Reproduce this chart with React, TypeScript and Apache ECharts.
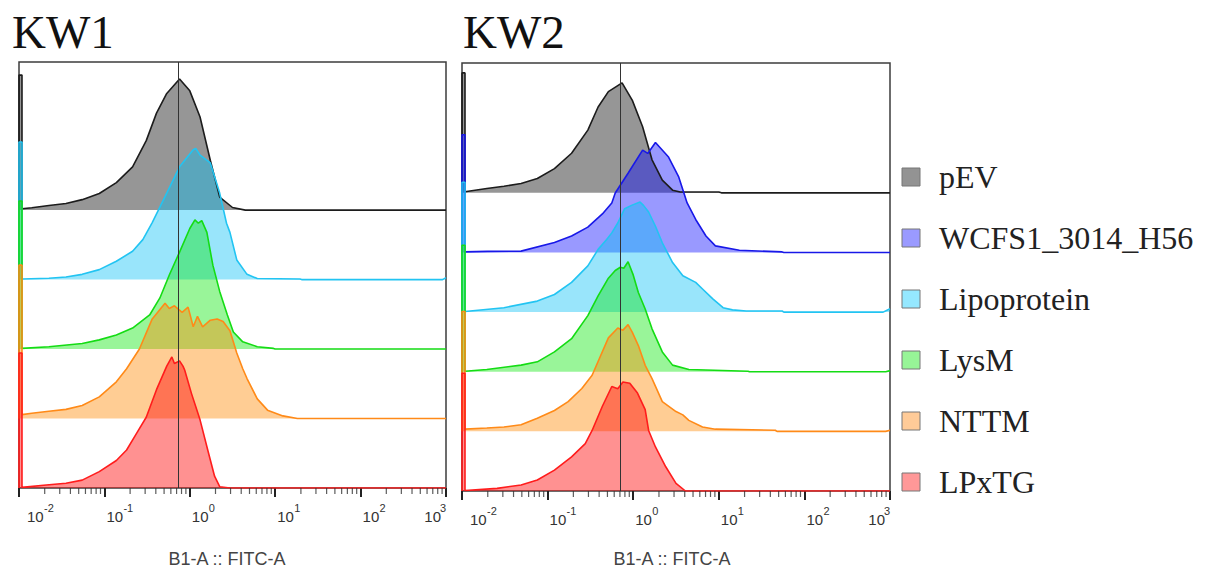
import React, { useEffect, useRef } from "react";
import * as echarts from "echarts";

// ---------- labels ----------
const PANEL_TITLES = ["KW1", "KW2"];
const X_AXIS_TITLE = "B1-A :: FITC-A";
const LEGEND_NAMES = ["pEV", "WCFS1_3014_H56", "Lipoprotein", "LysM", "NTTM", "LPxTG"];
const TICK_BASE = "10";

// ---------- colours ----------
const LINE_COLORS: Record<string, string> = {
  pEV: "#1c1c1c",
  WCFS1_3014_H56: "#1818e8",
  Lipoprotein: "#22c4f2",
  LysM: "#14dc14",
  NTTM: "#ff8a18",
  LPxTG: "#ff1c1c",
};
const FILL_COLORS: Record<string, string> = {
  pEV: "rgba(0,0,0,0.41)",
  WCFS1_3014_H56: "rgba(0,0,255,0.40)",
  Lipoprotein: "rgba(0,190,245,0.40)",
  LysM: "rgba(0,230,0,0.40)",
  NTTM: "rgba(255,135,0,0.42)",
  LPxTG: "rgba(255,0,0,0.43)",
};
const LEGEND_FILL: Record<string, string> = {
  pEV: "#939393",
  WCFS1_3014_H56: "#9a9aff",
  Lipoprotein: "#95e8ff",
  LysM: "#97f597",
  NTTM: "#ffcb98",
  LPxTG: "#ff9898",
};

// ---------- KW1 histograms (x in log10 FITC units, y in % of mode) ----------
const KW1_pEV_logx = [-1.96, -1.85, -1.65, -1.45, -1.26, -1.06, -0.86, -0.67, -0.51, -0.39, -0.27, -0.12, 0.0, 0.12, 0.24, 0.35, 0.5, 0.65];
const KW1_pEV_pct = [1, 1.8, 3.5, 5, 8, 12.7, 21, 33, 53, 74, 89, 100, 91, 71, 38, 10, 2, 0];
const KW1_pEV_spike = 103;

const KW1_Lipo_logx = [-1.96, -1.65, -1.45, -1.26, -1.06, -0.86, -0.67, -0.55, -0.44, -0.27, -0.12, 0.04, 0.07, 0.12, 0.24, 0.35, 0.43, 0.47, 0.55, 0.67, 0.79, 1.29, 1.31, 2.96, 3.0];
const KW1_Lipo_pct = [0.5, 1, 2, 4, 7.6, 14, 21.6, 30.5, 43.5, 66, 86, 99, 100, 95, 89, 66, 43, 36, 15, 4, 0.8, 0.5, 0, 0, 1.5];
const KW1_Lipo_spike = 105;

const KW1_LysM_logx = [-1.96, -1.65, -1.26, -1.06, -0.86, -0.67, -0.47, -0.35, -0.24, -0.12, 0.0, 0.06, 0.1, 0.14, 0.2, 0.27, 0.35, 0.44, 0.51, 0.62, 0.79, 0.98, 1.0];
const KW1_LysM_pct = [0.5, 1.8, 4.3, 7, 10.7, 16, 26, 39, 56.5, 74, 92, 98.5, 96, 98, 89, 64, 44, 26, 13, 5.5, 1.8, 0.5, 0];
const KW1_LysM_spike = 113;

const KW1_NTTM_logx = [-1.96, -1.85, -1.65, -1.45, -1.26, -1.06, -0.86, -0.74, -0.59, -0.44, -0.29, -0.24, -0.18, -0.09, -0.02, 0.04, 0.09, 0.15, 0.24, 0.32, 0.39, 0.47, 0.55, 0.62, 0.67, 0.79, 0.91, 1.09, 1.26];
const KW1_NTTM_pct = [3, 4, 5.5, 7, 10, 16.5, 28, 38, 53, 76, 88, 84, 86, 81, 85, 70, 78, 70, 75, 76, 74, 67, 50, 38, 30.5, 15, 6.4, 2, 0];
const KW1_NTTM_spike = 117;

const KW1_LPxTG_logx = [-1.96, -1.68, -1.45, -1.26, -1.06, -0.86, -0.74, -0.62, -0.51, -0.39, -0.27, -0.21, -0.18, -0.12, -0.08, -0.06, 0.02, 0.12, 0.21, 0.29, 0.35, 0.47];
const KW1_LPxTG_pct = [0.5, 2.3, 3.6, 6, 12.5, 21, 29, 42, 54, 75, 93, 100, 95, 97, 93, 90, 72, 52, 29, 9, 1, 0];
const KW1_LPxTG_spike = 103;

// ---------- KW2 histograms ----------
const KW2_pEV_logx = [-1.96, -1.71, -1.51, -1.31, -1.12, -0.92, -0.72, -0.53, -0.41, -0.29, -0.13, -0.01, 0.11, 0.22, 0.34, 0.46, 0.55, 1.0, 1.03];
const KW2_pEV_pct = [1, 3.9, 6, 8.5, 13, 22, 36, 57, 78, 92, 100, 84, 60, 30, 11.5, 2.4, 0.8, 0.8, 0];
const KW2_pEV_spike = 109;

const KW2_WCFS_logx = [-1.96, -1.7, -1.31, -0.92, -0.72, -0.53, -0.36, -0.25, -0.21, -0.06, 0.11, 0.17, 0.26, 0.41, 0.53, 0.63, 0.73, 0.85, 0.96, 1.24, 1.74, 1.76];
const KW2_WCFS_pct = [0.5, 1, 1.2, 9, 15, 23, 35, 45, 54, 72, 93, 90, 100, 87, 69, 45, 30, 15, 6, 2, 0.5, 0];
const KW2_WCFS_spike = 107;

const KW2_Lipo_logx = [-1.96, -1.51, -1.12, -0.92, -0.72, -0.53, -0.41, -0.31, -0.25, -0.18, -0.1, -0.02, 0.08, 0.12, 0.18, 0.26, 0.34, 0.46, 0.58, 0.73, 0.81, 0.93, 1.05, 1.16, 1.32, 1.74, 1.76, 2.92, 3.0];
const KW2_Lipo_pct = [0.5, 4, 10, 16, 27, 42, 57, 66, 72, 81, 94, 97, 100, 97, 91, 78, 63, 45, 33, 27, 21, 12, 4, 2, 1, 1, 0, 0, 3];
const KW2_Lipo_spike = 118;

const KW2_LysM_logx = [-1.96, -1.71, -1.31, -1.12, -0.92, -0.72, -0.53, -0.41, -0.29, -0.21, -0.15, -0.11, -0.06, 0.0, 0.06, 0.14, 0.22, 0.34, 0.46, 0.65, 1.34, 1.36, 2.95, 3.0];
const KW2_LysM_pct = [0.5, 2, 6, 9, 18, 30, 51, 69, 85, 92, 95, 94, 100, 88, 72, 57, 39, 18, 6, 2, 0.5, 0, 0, 1];
const KW2_LysM_spike = 115;

const KW2_NTTM_logx = [-1.96, -1.71, -1.51, -1.31, -1.12, -0.92, -0.76, -0.6, -0.48, -0.29, -0.18, -0.12, -0.06, -0.01, 0.06, 0.14, 0.22, 0.34, 0.5, 0.58, 0.65, 0.81, 0.96, 1.66, 1.68, 2.95, 3.0];
const KW2_NTTM_pct = [2, 3, 4, 6, 12, 19, 27, 39, 51, 85, 94, 92, 97, 90, 78, 60, 48, 27, 18, 15, 10, 4, 2, 1, 0, 0, 1];
const KW2_NTTM_spike = 109;

const KW2_LPxTG_logx = [-1.96, -1.59, -1.31, -1.12, -0.92, -0.72, -0.56, -0.48, -0.36, -0.25, -0.18, -0.12, -0.04, 0.05, 0.14, 0.18, 0.26, 0.38, 0.5, 0.61];
const KW2_LPxTG_pct = [0.5, 2.4, 5.5, 10, 19, 31, 43, 55, 77, 95, 93, 99, 98, 89, 74, 55, 40, 22, 7, 0];
const KW2_LPxTG_spike = 107;

// gate (vertical marker) positions
const KW1_gate = 0.73;
const KW2_gate = 0.7;

// x-axis range
const X_MIN = 0.01;
const X_MAX = 1000;
const MINOR_TICKS = [2, 3, 4, 5, 6, 7, 8, 9];
const MINOR_DECADES = [-2, -1, 0, 1, 2];

type Hist = { name: string; logx: number[]; pct: number[]; spike: number };

const KW1_HISTS: Hist[] = [
  { name: "pEV", logx: KW1_pEV_logx, pct: KW1_pEV_pct, spike: KW1_pEV_spike },
  { name: "Lipoprotein", logx: KW1_Lipo_logx, pct: KW1_Lipo_pct, spike: KW1_Lipo_spike },
  { name: "LysM", logx: KW1_LysM_logx, pct: KW1_LysM_pct, spike: KW1_LysM_spike },
  { name: "NTTM", logx: KW1_NTTM_logx, pct: KW1_NTTM_pct, spike: KW1_NTTM_spike },
  { name: "LPxTG", logx: KW1_LPxTG_logx, pct: KW1_LPxTG_pct, spike: KW1_LPxTG_spike },
];
const KW2_HISTS: Hist[] = [
  { name: "pEV", logx: KW2_pEV_logx, pct: KW2_pEV_pct, spike: KW2_pEV_spike },
  { name: "WCFS1_3014_H56", logx: KW2_WCFS_logx, pct: KW2_WCFS_pct, spike: KW2_WCFS_spike },
  { name: "Lipoprotein", logx: KW2_Lipo_logx, pct: KW2_Lipo_pct, spike: KW2_Lipo_spike },
  { name: "LysM", logx: KW2_LysM_logx, pct: KW2_LysM_pct, spike: KW2_LysM_spike },
  { name: "NTTM", logx: KW2_NTTM_logx, pct: KW2_NTTM_pct, spike: KW2_NTTM_spike },
  { name: "LPxTG", logx: KW2_LPxTG_logx, pct: KW2_LPxTG_pct, spike: KW2_LPxTG_spike },
];

const SERIF = "'Liberation Serif', 'Times New Roman', serif";
const SANS = "'Liberation Sans', Arial, sans-serif";

const SPIKE_END_LOG = -1.965;

function buildHist(h: Hist, offset: number) {
  const spikeEnd = Math.pow(10, SPIKE_END_LOG);
  const pts: number[][] = [
    [X_MIN, offset],
    [X_MIN, offset + h.spike],
    [spikeEnd, offset + h.spike],
    [spikeEnd, offset + h.pct[0]],
  ];
  h.logx.forEach((l, i) => pts.push([Math.pow(10, l), offset + h.pct[i]]));
  if (h.logx[h.logx.length - 1] < 3) pts.push([X_MAX, offset]);
  return pts;
}

const PANELS = [
  { hists: KW1_HISTS, gate: KW1_gate, grid: { left: 19, top: 62, width: 427, height: 426 }, yMax: 325, step: 53, title: PANEL_TITLES[0], titleX: 12, nameX: 227 },
  { hists: KW2_HISTS, gate: KW2_gate, grid: { left: 462, top: 63, width: 428, height: 428 }, yMax: 389, step: 54.2, title: PANEL_TITLES[1], titleX: 463, nameX: 672 },
];

const expOf = (v: number) => Math.round(Math.log10(v));

export default function App() {
  const ref = useRef<HTMLDivElement>(null);
  useEffect(() => {
    if (!ref.current) return;
    const chart = echarts.init(ref.current, undefined, { renderer: "svg" });

    const grids: any[] = [];
    const xAxes: any[] = [];
    const yAxes: any[] = [];
    const series: any[] = [];
    const graphics: any[] = [];

    const minorTickData: number[][] = [];
    MINOR_DECADES.forEach((d) => MINOR_TICKS.forEach((k) => minorTickData.push([k * Math.pow(10, d), 0])));

    PANELS.forEach((p, pi) => {
      grids.push({
        ...p.grid,
        show: true,
        borderColor: "#3c3c3c",
        borderWidth: 1.5,
        backgroundColor: "transparent",
        containLabel: false,
      });
      const axisBase = {
        type: "log",
        logBase: 10,
        gridIndex: pi,
        min: X_MIN,
        max: X_MAX,
        splitNumber: 5,
        position: "bottom",
        axisLine: { show: false },
        splitLine: { show: false },
      };
      // main axis: ticks + "10" of each label
      xAxes.push({
        ...axisBase,
        axisTick: { show: true, length: 9, lineStyle: { color: "#222", width: 2 } },
        axisLabel: {
          show: true,
          margin: 21,
          align: "left",
          alignMaxLabel: "right",
          showMinLabel: true,
          showMaxLabel: true,
          hideOverlap: false,
          formatter: (v: number) => {
            const e = expOf(v);
            if (e === -2) return `{m|${TICK_BASE}}`;
            if (e === 3) return `{x|${TICK_BASE}}`;
            return `{n|${TICK_BASE}}`;
          },
          rich: {
            n: { fontSize: 15, fontFamily: SANS, color: "#333", padding: [0, 0, 0, 2] },
            m: { fontSize: 15, fontFamily: SANS, color: "#333", padding: [0, 0, 0, 8] },
            x: { fontSize: 15, fontFamily: SANS, color: "#333", padding: [0, 5, 0, 0] },
          },
        },
      });
      // companion axis: superscript exponents
      xAxes.push({
        ...axisBase,
        axisTick: { show: false },
        axisLabel: {
          show: true,
          margin: 14,
          align: "left",
          alignMaxLabel: "right",
          showMinLabel: true,
          showMaxLabel: true,
          hideOverlap: false,
          formatter: (v: number) => {
            const e = expOf(v);
            if (e === -2) return `{m|${e}}`;
            if (e === 3) return `{x|${e}}`;
            return `{n|${e}}`;
          },
          rich: {
            n: { fontSize: 11, fontFamily: SANS, color: "#333", padding: [0, 0, 0, 19] },
            m: { fontSize: 11, fontFamily: SANS, color: "#333", padding: [0, 0, 0, 25] },
            x: { fontSize: 11, fontFamily: SANS, color: "#333", padding: [0, 0, 0, 0] },
          },
        },
      });
      yAxes.push({
        type: "value",
        gridIndex: pi,
        min: 0,
        max: p.yMax,
        show: false,
        splitLine: { show: false },
      });

      const xi = pi * 2;
      p.hists.forEach((h, hi) => {
        const offset = (p.hists.length - 1 - hi) * p.step;
        const s: any = {
          type: "line",
          name: h.name,
          xAxisIndex: xi,
          yAxisIndex: pi,
          data: buildHist(h, offset),
          showSymbol: false,
          symbol: "none",
          smooth: false,
          silent: true,
          lineStyle: { color: LINE_COLORS[h.name], width: 1.6 },
          itemStyle: { color: LINE_COLORS[h.name] },
          areaStyle: { color: FILL_COLORS[h.name], origin: offset, opacity: 1 },
        };
        if (hi === p.hists.length - 1) {
          s.markLine = {
            silent: true,
            symbol: "none",
            label: { show: false },
            lineStyle: { color: "#333", width: 1, type: "solid" },
            data: [{ xAxis: p.gate }],
          };
        }
        series.push(s);
      });

      series.push({
        type: "scatter",
        xAxisIndex: xi,
        yAxisIndex: pi,
        data: minorTickData,
        symbol: "rect",
        symbolSize: [1.2, 6],
        symbolOffset: [0, 3],
        clip: false,
        silent: true,
        itemStyle: { color: "#333" },
        z: 5,
      });

      graphics.push({
        type: "text",
        x: p.titleX,
        y: 32,
        style: { text: p.title, font: `47px ${SERIF}`, fill: "#111", verticalAlign: "middle", align: "left" },
      });
      graphics.push({
        type: "text",
        x: p.nameX,
        y: 559,
        style: { text: X_AXIS_TITLE, font: `18px ${SANS}`, fill: "#444", verticalAlign: "middle", align: "center" },
      });
    });

    LEGEND_NAMES.forEach((n, i) => {
      const cy = 177 + i * 61;
      graphics.push({
        type: "rect",
        shape: { x: 902, y: cy - 9, width: 18, height: 18 },
        style: { fill: LEGEND_FILL[n], stroke: "#777", lineWidth: 1 },
      });
      graphics.push({
        type: "text",
        x: 939,
        y: cy,
        style: { text: n, font: `32px ${SERIF}`, fill: "#222", verticalAlign: "middle", align: "left" },
      });
    });

    chart.setOption({
      animation: false,
      backgroundColor: "#fff",
      grid: grids,
      xAxis: xAxes,
      yAxis: yAxes,
      series,
      graphic: graphics,
    });
    return () => chart.dispose();
  }, []);
  return <div ref={ref} style={{ position: "fixed", left: 0, top: 0, width: 1213, height: 569 }} />;
}
